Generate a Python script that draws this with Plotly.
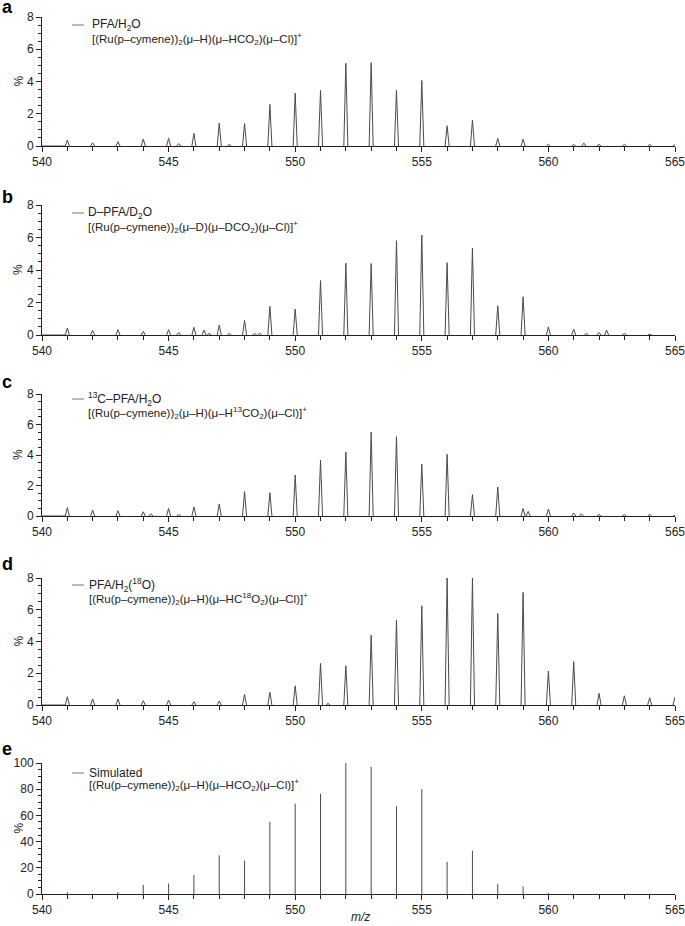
import plotly.graph_objects as go

# ---------------- data (m/z, relative intensity %) ----------------
mz_a = [541, 542, 543, 544, 545, 545.4, 546, 547, 547.4, 548, 549, 550, 551, 552, 553, 554, 555,
        556, 557, 558, 559, 560, 561, 561.4, 562, 563, 564, 565]
int_a = [0.37, 0.2, 0.27, 0.43, 0.47, 0.15, 0.78, 1.42, 0.1, 1.4, 2.58, 3.28, 3.45, 5.13, 5.17, 3.45, 4.06,
         1.25, 1.6, 0.47, 0.43, 0.1, 0.1, 0.18, 0.1, 0.1, 0.1, 0.1]

mz_b = [541, 542, 543, 544, 545, 545.4, 546, 546.4, 546.6, 547, 547.4, 548, 548.4, 548.6, 549, 550, 551, 552,
        553, 554, 555, 556, 557, 558, 559, 560, 561, 561.5, 562, 562.3, 563, 564]
int_b = [0.43, 0.28, 0.33, 0.22, 0.33, 0.15, 0.47, 0.3, 0.1, 0.61, 0.1, 0.9, 0.1, 0.1, 1.76, 1.6, 3.35, 4.42,
         4.4, 5.8, 6.15, 4.45, 5.35, 1.8, 2.35, 0.5, 0.35, 0.1, 0.15, 0.3, 0.1, 0.05]

mz_c = [541, 542, 543, 544, 544.3, 545, 545.4, 546, 547, 548, 549, 550, 551, 552, 553, 554, 555, 556,
        557, 558, 559, 559.2, 560, 561, 561.3, 562, 563, 564, 565]
int_c = [0.55, 0.39, 0.35, 0.28, 0.15, 0.5, 0.1, 0.6, 0.79, 1.6, 1.53, 2.69, 3.67, 4.2, 5.5, 5.2, 3.4, 4.05,
         1.4, 1.9, 0.5, 0.3, 0.45, 0.2, 0.15, 0.1, 0.1, 0.1, 0.05]

mz_d = [541, 542, 543, 544, 545, 546, 547, 548, 549, 550, 551, 551.3, 552, 553, 554, 555, 556, 557,
        558, 559, 560, 561, 562, 563, 564, 565]
int_d = [0.52, 0.38, 0.38, 0.27, 0.31, 0.21, 0.25, 0.67, 0.8, 1.21, 2.62, 0.1, 2.47, 4.4, 5.35, 6.25, 8.0, 8.0,
         5.77, 7.09, 2.14, 2.73, 0.73, 0.58, 0.46, 0.5]

mz_e = [541, 542, 543, 544, 545, 546, 547, 548, 549, 550, 551, 552, 553, 554, 555, 556, 557, 558, 559, 560]
int_e = [1.5, 0.3, 1.5, 7, 8, 14.5, 29.5, 25.5, 55, 69, 76.5, 100, 97, 67, 80, 24.5, 33, 7.6, 5.8, 1]

labels = ["a", "b", "c", "d", "e"]
title1 = ["PFA/H<sub>2</sub>O",
          "D–PFA/D<sub>2</sub>O",
          "<sup>13</sup>C–PFA/H<sub>2</sub>O",
          "PFA/H<sub>2</sub>(<sup>18</sup>O)",
          "Simulated"]
title2 = ["[(Ru(p–cymene))<sub>2</sub>(μ–H)(μ–HCO<sub>2</sub>)(μ–Cl)]<sup>+</sup>",
          "[(Ru(p–cymene))<sub>2</sub>(μ–D)(μ–DCO<sub>2</sub>)(μ–Cl)]<sup>+</sup>",
          "[(Ru(p–cymene))<sub>2</sub>(μ–H)(μ–H<sup>13</sup>CO<sub>2</sub>)(μ–Cl)]<sup>+</sup>",
          "[(Ru(p–cymene))<sub>2</sub>(μ–H)(μ–HC<sup>18</sup>O<sub>2</sub>)(μ–Cl)]<sup>+</sup>",
          "[(Ru(p–cymene))<sub>2</sub>(μ–H)(μ–HCO<sub>2</sub>)(μ–Cl)]<sup>+</sup>"]
x_ticks = [540, 545, 550, 555, 560, 565]

# ---------------- layout geometry ----------------
W, H = 685, 926
def fx(p): return p / W
def fy(p): return 1 - p / H

tops = [17, 205, 394, 578, 763]
bots = [146, 335, 516, 705, 894]
X0, X1 = 42, 675
title_y1 = [25, 213, 399, 585, 773]
title_y2 = [39, 227, 413, 599, 785]
label_y = [7, 197, 382, 564, 749]
text_x = [90, 86, 86, 87, 87]

LINE = "#4a4a4a"
AX = "#222222"
FONT = "Arial, Liberation Sans, sans-serif"

fig = go.Figure()
datasets = [(mz_a, int_a), (mz_b, int_b), (mz_c, int_c), (mz_d, int_d), (mz_e, int_e)]
hw = 0.08
for i, (mz, it) in enumerate(datasets):
    xs, ys = [], []
    if i < 4:
        for m, h in zip(mz, it):
            xs += [m - hw, m, m + hw, None]
            ys += [0, h, 0, None]
        xs = [540] + xs + [565]
        ys = [0] + ys + [0]
    else:
        for m, h in zip(mz, it):
            xs += [m, m, None]
            ys += [0, h, None]
    sfx = "" if i == 0 else str(i + 1)
    fig.add_trace(go.Scatter(x=xs, y=ys, mode="lines", line=dict(color=LINE, width=1),
                             xaxis="x" + sfx, yaxis="y" + sfx, showlegend=False,
                             connectgaps=False, hoverinfo="skip"))

layout = dict(width=W, height=H, margin=dict(l=0, r=0, t=0, b=0),
              paper_bgcolor="white", plot_bgcolor="white", showlegend=False,
              font=dict(family=FONT, size=12, color=AX))
annotations = []
shapes = []
for i in range(5):
    sfx = "" if i == 0 else str(i + 1)
    is_e = (i == 4)
    layout["xaxis" + sfx] = dict(
        domain=[fx(X0), fx(X1)], anchor="y" + sfx, range=[540, 565], automargin=False,
        tickmode="array", tickvals=x_ticks, ticktext=[str(v) for v in x_ticks],
        ticklabeloverflow="allow",
        showline=True, linecolor=AX, linewidth=1, ticks="outside", ticklen=5, tickwidth=1,
        tickcolor=AX, showgrid=False, zeroline=False, tickfont=dict(size=12, color=AX),
        minor=dict(dtick=1, ticks="outside", ticklen=4, tickcolor=AX, tickwidth=1, showgrid=False))
    layout["yaxis" + sfx] = dict(
        domain=[fy(bots[i]), fy(tops[i])], anchor="x" + sfx, automargin=False,
        range=[0, 100] if is_e else [0, 8], dtick=20 if is_e else 2,
        ticklabeloverflow="allow",
        showline=True, linecolor=AX, linewidth=1, ticks="outside", ticklen=5, tickwidth=1,
        tickcolor=AX, showgrid=False, zeroline=False, tickfont=dict(size=12, color=AX),
        minor=dict(dtick=5 if is_e else 0.5, ticks="outside", ticklen=3, tickcolor=AX,
                   tickwidth=1, showgrid=False))
    # y title
    annotations.append(dict(text="%", x=fx(18), y=fy((tops[i] + bots[i]) / 2), textangle=-90,
                            xref="paper", yref="paper", xanchor="center", yanchor="middle",
                            showarrow=False, font=dict(size=12, color=AX, family=FONT)))
    # panel label
    annotations.append(dict(text="<b>" + labels[i] + "</b>", x=fx(0), y=fy(label_y[i]),
                            xref="paper", yref="paper", xanchor="left", yanchor="middle",
                            showarrow=False, font=dict(size=18, color="black", family=FONT)))
    # legend texts
    annotations.append(dict(text=title1[i], x=fx(text_x[i]), y=fy(title_y1[i]),
                            xref="paper", yref="paper", xanchor="left", yanchor="middle",
                            showarrow=False, font=dict(size=12, color=AX, family=FONT)))
    annotations.append(dict(text=title2[i], x=fx(text_x[i]), y=fy(title_y2[i]),
                            xref="paper", yref="paper", xanchor="left", yanchor="middle",
                            showarrow=False, font=dict(size=11.5, color=AX, family=FONT)))
    shapes.append(dict(type="line", xref="paper", yref="paper",
                       x0=fx(72), x1=fx(84), y0=fy(title_y1[i]), y1=fy(title_y1[i]),
                       line=dict(color="#777777", width=1)))

annotations.append(dict(text="<i>m/z</i>", x=fx(360), y=fy(917),
                        xref="paper", yref="paper", xanchor="center", yanchor="middle",
                        showarrow=False, font=dict(size=12, color=AX, family=FONT)))
layout["annotations"] = annotations
layout["shapes"] = shapes
fig.update_layout(**layout)
fig.write_html("out.html", config={"displayModeBar": False},
               post_script="document.body.style.margin='0';document.body.style.overflow='hidden';")
